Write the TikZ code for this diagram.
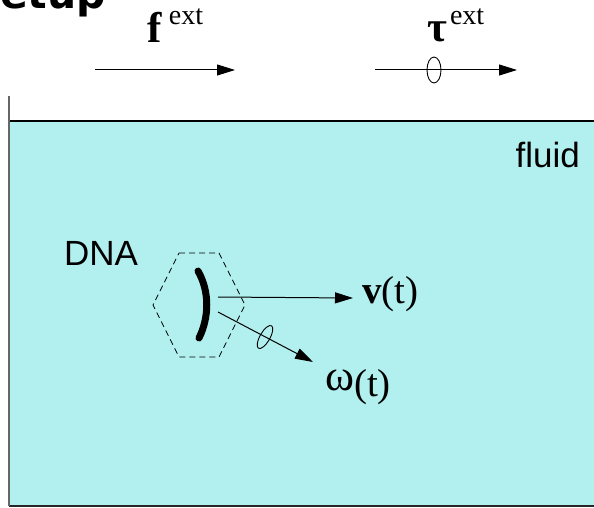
\documentclass[tikz,border=0pt]{standalone}
\usepackage{fontspec}
\usepackage{tikz}
\usetikzlibrary{arrows.meta}
\usetikzlibrary{positioning, shapes.geometric}
\newfontfamily\titlefont{DejaVu Sans}
\newfontfamily\sanslabel{Liberation Sans}
\newfontfamily\seriflabel{Liberation Serif}
\definecolor{fluidcyan}{RGB}{178,240,240}

\begin{document}
\begin{tikzpicture}[x=1pt,y=-1pt,
  force/.style={-{Triangle[length=18pt,width=11pt]}, line width=1pt},
  rotsign/.style={ellipse, draw, line width=0.9pt, inner sep=0pt},
  sanstext/.style={font=\sanslabel\fontsize{35}{35}\selectfont, inner sep=0pt},
  symtext/.style={font=\seriflabel\fontsize{39}{39}\selectfont, inner sep=0pt}]
  \useasboundingbox (0,0) rectangle (594,508);
  % title, cut at the top
  \node[anchor=base west, inner sep=0pt, font=\titlefont\bfseries\fontsize{41}{41}\selectfont] (title) at (0,9) {etup};
  % fluid box
  \fill[fluidcyan] (9,121) rectangle (594,506);
  \draw[line width=1.3pt] (9,121) -- (594,121);
  \draw[line width=1.3pt, black!85] (9,506) -- (594,506);
  \draw[line width=1.6pt, black!60] (9,96) -- (9,506);
  \node[sanstext, anchor=base east] (fluid) at (580,167) {fluid};
  % external force and torque
  \node[symtext, anchor=base west] (fext) at (147,43)
    {\fontsize{43}{43}\selectfont\textbf{f}\hspace{7pt}\raisebox{18pt}{\fontsize{28}{28}\selectfont ext}};
  \node[symtext, anchor=base west] (tauext) at (427,42)
    {{\fontsize{43}{43}\selectfont\textbf{τ}}\hspace{3pt}\raisebox{17pt}{\fontsize{28}{28}\selectfont ext}};
  \coordinate (f0) at (95,70);
  \coordinate (f1) at (235,70);
  \draw[force] (f0) -- (f1);
  \coordinate (t0) at (375,70);
  \coordinate (t1) at (517,70);
  \node[rotsign, minimum width=14pt, minimum height=26pt] (taurot) at (434,70) {};
  \draw[force] (t0) -- (t1);
  % DNA in its dashed cell
  \node[sanstext, anchor=base west] (dnalabel) at (64,265) {DNA};
  \coordinate (dna) at (199,305);
  \draw[dash pattern=on 6pt off 4pt, line width=0.8pt] (179,253) -- (219,253) -- (245,305) -- (219,357)
    -- (179,357) -- (153,305) -- cycle;
  \draw[line width=7pt, line cap=round] (198,271) .. controls (210,292) and (209,318) .. (199,338);
  % velocities of the DNA
  \coordinate (v0) at (218,297);
  \coordinate (v1) at (353,298);
  \draw[force] (v0) -- (v1);
  \node[symtext, anchor=base west] (vel) at (362,303) {\textbf{v}\seriflabel(t)};
  \coordinate (w0) at (218,312);
  \coordinate (w1) at (313,362);
  \node[rotsign, minimum width=10pt, minimum height=26pt, rotate=-30] (omrot) at (265,337) {};
  \draw[force] (w0) -- (w1);
  \node[symtext, anchor=base west] (omega) at (325,396)
    {\raisebox{6pt}{\fontsize{44}{44}\selectfont\seriflabel ω}\seriflabel(t)};
\end{tikzpicture}
\end{document}
